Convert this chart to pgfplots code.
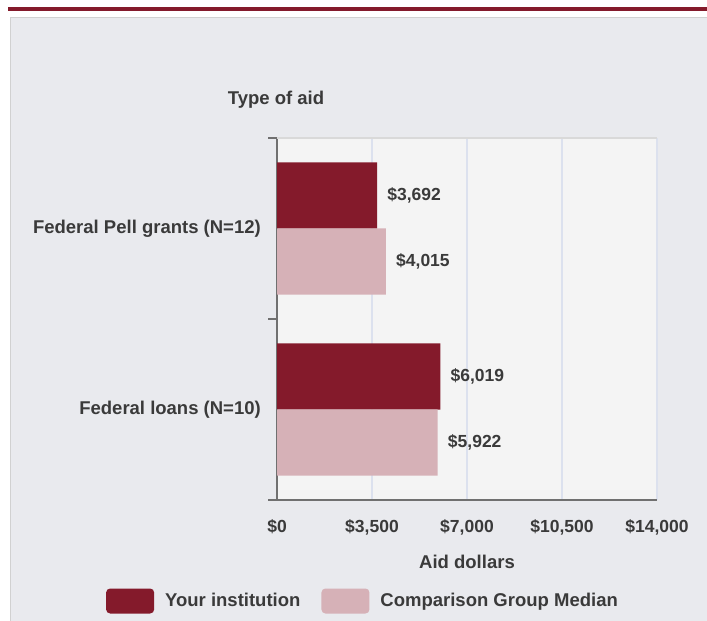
\documentclass[border=0pt]{standalone}
\usepackage{fontspec}
\setmainfont{Liberation Sans}
\usepackage{pgfplots}
\pgfplotsset{compat=1.18}

\definecolor{darkred}{HTML}{841A2B}
\definecolor{lightred}{HTML}{D6B1B7}
\definecolor{panel}{HTML}{E9EAEE}
\definecolor{plotbg}{HTML}{F4F4F4}
\definecolor{gridc}{HTML}{DCE1EE}
\definecolor{axisc}{HTML}{707070}
\definecolor{txt}{HTML}{3A3A3A}
\newcommand{\labfont}{\fontsize{18.5bp}{22bp}\selectfont\bfseries}
\newcommand{\valfont}{\fontsize{17.5bp}{21bp}\selectfont\bfseries}

\begin{document}
\begin{tikzpicture}[x=1bp,y=1bp]
\path[use as bounding box] (0,0) rectangle (707,621);
\fill[white] (0,0) rectangle (707,621);
\fill[darkred] (8,610) rectangle (707,614);
\fill[panel] (10,-1) rectangle (708,604);
\draw[black!18, line width=1.2bp] (10.6,-1) -- (10.6,603.4) -- (708,603.4);

\begin{axis}[
  at={(277bp,121bp)}, anchor=south west,
  scale only axis, width=380bp, height=362bp,
  xbar, bar width=0.365,
  xmin=0, xmax=14000, ymin=-0.5, ymax=1.5,
  scaled x ticks=false,
  axis background/.style={fill=plotbg},
  axis x line*=bottom, axis y line*=left,
  axis line style={axisc, line width=1.5bp},
  xtick={0,3500,7000,10500,14000},
  xticklabels={{\$0},{\$3,500},{\$7,000},{\$10,500},{\$14,000}},
  ytick={0,1},
  yticklabels={Federal loans (N=10),Federal Pell grants (N=12)},
  minor ytick={-0.5,0.5,1.5},
  major tick length=0pt, minor tick length=9bp,
  tick align=outside,
  xtick style={draw=none},
  ytick style={axisc, line width=1.5bp},
  minor tick style={axisc, line width=1.5bp},
  xmajorgrids, major grid style={gridc, line width=1.5bp},
  xticklabel style={font=\valfont, text=txt, inner sep=0pt, anchor=north, yshift=-19bp},
  yticklabel style={font=\labfont, text=txt, inner sep=0pt, anchor=east, xshift=-16bp},
  xlabel={Aid dollars},
  xlabel style={font=\labfont, text=txt, at={(rel axis cs:0.5,0)}, anchor=center, yshift=-62bp},
  title={Type of aid},
  title style={font=\labfont, text=txt, at={(rel axis cs:0,1)}, anchor=center, yshift=32bp, xshift=-1bp},
  nodes near coords,
  point meta=explicit symbolic,
  every node near coord/.append style={font=\valfont, text=txt, anchor=west, inner sep=0pt, xshift=10bp},
  every axis plot post/.append style={legend image code/.code={
      \path[##1, draw=none, rounded corners=4bp] (0bp,-12.5bp) rectangle (48bp,12.5bp);}},
  legend columns=2,
  legend style={at={(0.2237,-0.279)}, anchor=center, draw=none, fill=none,
    nodes={inner sep=0pt, text=txt, font=\labfont},
    /tikz/every odd column/.append style={column sep=11bp},
    /tikz/every even column/.append style={column sep=21bp}},
]
\addplot[fill=darkred, draw=none, bar shift=0.1823]
  coordinates {(3692,1) [\$3,692] (6019,0) [\$6,019]};
\addplot[fill=lightred, draw=none, bar shift=-0.1823]
  coordinates {(4015,1) [\$4,015] (5922,0) [\$5,922]};
\draw[black!15, line width=1.2bp] (rel axis cs:0,1) -- (rel axis cs:1,1);
\legend{Your institution, Comparison Group Median}
\end{axis}
\end{tikzpicture}
\end{document}
